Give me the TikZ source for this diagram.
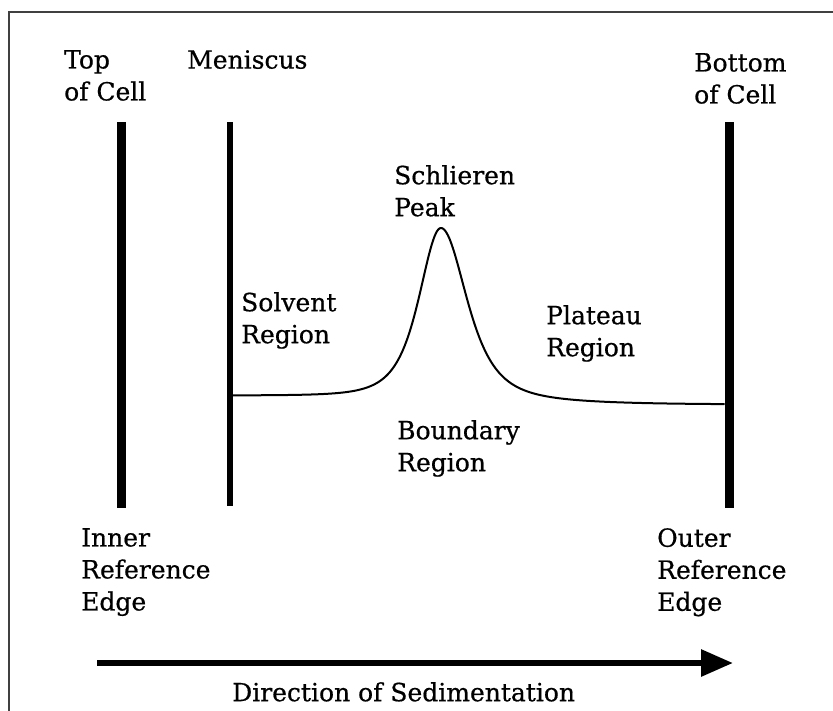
\documentclass[tikz,border=0pt]{standalone}
\usepackage{fontspec}
\setmainfont{DejaVu Serif}
\newfontfamily\lblfont[FakeBold=0.6]{DejaVu Serif}
\usetikzlibrary{arrows.meta}
\tikzset{
  lbl/.style={anchor=north west, inner sep=0pt, align=left,
    font=\lblfont\fontsize{25}{32}\selectfont},
  thickbar/.style={line width=9pt},
  menbar/.style={line width=6pt},
  trace/.style={line width=2pt, line join=round},
  framel/.style={line width=2pt, draw=black!75},
  declare function={
    basel(\t)=395.5+9/(1+exp(-(\t-520)/60));
    wid(\t)=(\t<441)*40+(\t>=441)*47;
    trc(\t)=basel(\t)-169.4/((1+((\t-441)/wid(\t))^2)^2);
  },
}
\begin{document}
\begin{tikzpicture}[x=1pt,y=-1pt]
\useasboundingbox (0,0) rectangle (833,710);
\fill[white] (0,0) rectangle (833,710);
% frame (cropped)
\draw[framel] (9,712) -- (9,12) -- (835,12);
% labels
\node[lbl] (top) at (64,50) {Top\\of Cell};
\node[lbl] (men) at (187,50) {Meniscus};
\node[lbl] (bot) at (694,53) {Bottom\\of Cell};
\node[lbl] (sch) at (394,165) {Schlieren\\Peak};
\node[lbl] (sol) at (241,292) {Solvent\\Region};
\node[lbl] (pla) at (546,305) {Plateau\\Region};
\node[lbl] (bnd) at (397,420) {Boundary\\Region};
\node[lbl] (inn) at (81,528) {Inner\\Reference\\Edge};
\node[lbl] (out) at (657,528) {Outer\\Reference\\Edge};
\node[lbl] (dir) at (232,682) {Direction of Sedimentation};
% bars
\coordinate (tA) at (121,122); \coordinate (tB) at (121,508);
\coordinate (mA) at (229.5,122); \coordinate (mB) at (229.5,506);
\coordinate (bA) at (729,122); \coordinate (bB) at (729,508);
\draw[thickbar] (tA) -- (tB);
\draw[menbar] (mA) -- (mB);
\draw[thickbar] (bA) -- (bB);
% schlieren trace
\draw[trace] plot[domain=232:724.5, samples=400] (\x, {trc(\x)});
% direction arrow
\coordinate (aS) at (97,663);
\coordinate (aE) at (733,663);
\draw[line width=6pt, -{Triangle[length=32pt,width=26pt]}] (aS) -- (aE);
\end{tikzpicture}
\end{document}
